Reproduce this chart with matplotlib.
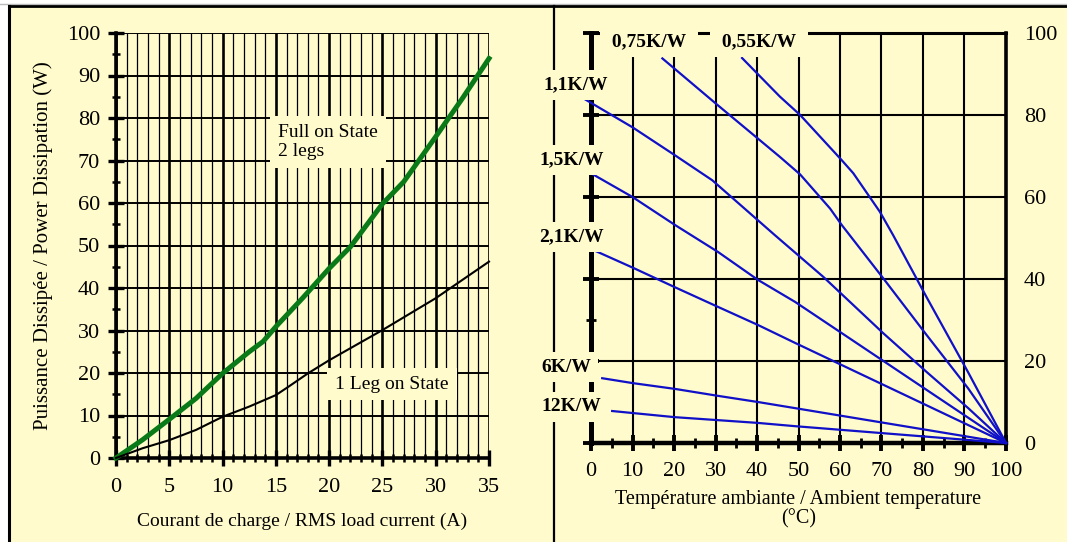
"""
Power dissipation vs RMS load current, and max allowed power vs ambient
temperature for several heatsink thermal resistances.
"""

import matplotlib
import numpy as np

matplotlib.use("Agg")
import matplotlib.pyplot as plt  # noqa: E402
from matplotlib.lines import Line2D  # noqa: E402
from matplotlib.patches import Rectangle  # noqa: E402

plt.rcParams["font.family"] = ["Liberation Serif", "DejaVu Serif"]

BG = "#FFFBCC"
GREEN = "#0a7a18"
BLUE = "#1010c8"

# --- left panel: dissipated power vs load current
I_FULL = [0, 2.5, 5, 7.5, 10, 12.5, 13.8, 15, 17.5, 20, 22, 25, 27, 30, 32.5, 35]
P_FULL = [0, 4.3, 9.1, 14, 19.9, 25, 27.4, 30.9, 37.6, 44.6, 49.7, 59.8, 65,
          75.6, 84.6, 94]
I_LEG = [0, 2.5, 5, 7.5, 10, 12.5, 15, 16.2, 18, 20, 25, 30, 35]
P_LEG = [0, 2.3, 4.2, 6.6, 9.7, 12.1, 14.8, 16.8, 19.9, 23, 30.1, 37.6, 46.2]

# --- right panel: allowed power vs ambient temperature, per Rth(heatsink)
RTH = {
    "0,55K/W": ([36.4, 45.5, 50.4, 60.4, 63.2, 69.6, 72.8, 80.9, 90.9, 100],
                [93.9, 84.5, 80.0, 69.0, 65.8, 56.4, 50.7, 35.5, 17.2, 0]),
    "0,75K/W": ([17.2, 30.3, 45.5, 50.4, 57.6, 60.4, 70.4, 80.9, 90.9, 100],
                [93.8, 82.6, 69.8, 65.5, 57.2, 53.2, 40.2, 26.3, 13.3, 0]),
    "1,1K/W": ([-1.9, 10, 20.2, 29.2, 44.3, 56, 70.4, 80.9, 90.9, 100],
               [84.1, 77.0, 70.2, 64.1, 50.7, 40.5, 26.8, 17.3, 8.5, 0]),
    "1,5K/W": ([-0.2, 10, 20.2, 30.6, 40.2, 49.2, 100],
               [65.9, 60.0, 53.2, 46.6, 39.8, 34.4, 0]),
    "2,1K/W": ([0.5, 10.2, 20.2, 30.6, 40.2, 49.2, 100],
               [47.1, 42.7, 38.0, 33.2, 28.8, 24.4, 0]),
    "6K/W": ([2.7, 10.1, 20.2, 30.6, 40.2, 49.2, 100],
             [15.8, 14.6, 13.2, 11.5, 10.0, 8.5, 0]),
    "12K/W": ([5.1, 20.2, 40.2, 49.2, 100],
              [7.8, 6.3, 4.9, 4.1, 0]),
}
# label anchor (temperature, power) for each curve name
RTH_LABEL_POS = {
    "0,75K/W": (14.0, 97.8), "0,55K/W": (40.5, 97.8),
    "1,1K/W": (-3.6, 87.3), "1,5K/W": (-4.6, 69.0), "2,1K/W": (-4.6, 50.2),
    "6K/W": (-6.0, 18.5), "12K/W": (-4.8, 8.8),
}

W, H = 1067, 542


def fx(px):
    return px / W


def fy(py):
    return 1 - py / H


def main():
    fig = plt.figure(figsize=(W / 100, H / 100), dpi=100)
    fig.patch.set_facecolor("white")

    # page frame
    fig.patches.append(Rectangle((fx(9), 0), 1 - fx(9), fy(6),
                                 transform=fig.transFigure, facecolor=BG,
                                 edgecolor="none", zorder=-5))
    fig.add_artist(Line2D([0, 1], [fy(3.5), fy(3.5)], color="#bbbbbb", lw=1, zorder=-4))
    fig.add_artist(Line2D([fx(9), 1], [fy(6), fy(6)], color="k", lw=2, zorder=-4))
    fig.add_artist(Line2D([fx(9), fx(9)], [0, fy(6)], color="k", lw=2.2, zorder=-4))
    fig.add_artist(Line2D([fx(554), fx(554)], [0, fy(6)], color="k", lw=1.6, zorder=-4))

    # ---------------- left panel
    ax1 = fig.add_axes([fx(116), fy(458), (489 - 116) / W, (458 - 33) / H])
    ax1.set_facecolor("none")
    ax1.set_xlim(0, 35)
    ax1.set_ylim(0, 100)
    for s in ("top", "right"):
        ax1.spines[s].set_visible(False)
    for s in ("left", "bottom"):
        ax1.spines[s].set_linewidth(2.6)
    ax1.set_xticks(np.arange(0, 36, 5))
    ax1.set_xticks(np.arange(0, 36, 1), minor=True)
    ax1.set_yticks(np.arange(0, 101, 10))
    ax1.set_yticks(np.arange(5, 100, 10), minor=True)
    ax1.xaxis.grid(True, which="major", color="k", lw=1.9)
    ax1.xaxis.grid(True, which="minor", color="k", lw=0.9)
    ax1.yaxis.grid(True, which="major", color="k", lw=1.4)
    ax1.set_axisbelow(True)
    ax1.tick_params(which="major", direction="inout", length=11, width=2.4,
                    labelsize=16, pad=6)
    ax1.tick_params(axis="x", which="major", pad=9)
    ax1.tick_params(which="minor", direction="inout", length=6, width=1.8)

    ax1.plot(I_FULL, P_FULL, color=GREEN, lw=3.6, zorder=4, clip_on=False)
    ax1.plot(I_LEG, P_LEG, color="k", lw=1.5, zorder=4, clip_on=False)
    ax1.text(15.2, 74.3, "Full on State\n2 legs", fontsize=14, ha="left",
             va="center", linespacing=1.15, zorder=5,
             bbox=dict(boxstyle="square,pad=0.4", fc=BG, ec="none"))
    ax1.text(25.9, 17.4, "1 Leg on State", fontsize=14, ha="center",
             va="center", zorder=5,
             bbox=dict(boxstyle="square,pad=0.4", fc=BG, ec="none"))
    ax1.set_xlabel("Courant de charge / RMS load current (A)", fontsize=14,
                   labelpad=11)
    ax1.set_ylabel("Puissance Dissipée / Power Dissipation (W)", fontsize=15,
                   labelpad=10)

    # ---------------- right panel
    ax2 = fig.add_axes([fx(591), fy(443), (1006 - 591) / W, (443 - 33) / H])
    ax2.set_facecolor("none")
    ax2.set_xlim(0, 100)
    ax2.set_ylim(0, 100)
    ax2.spines["left"].set_linewidth(3.6)
    ax2.spines["bottom"].set_linewidth(3.2)
    ax2.spines["right"].set_linewidth(2.6)
    ax2.spines["top"].set_linewidth(2.2)
    ax2.set_xticks(np.arange(0, 101, 10))
    ax2.set_xticks(np.arange(5, 100, 10), minor=True)
    ax2.set_yticks(np.arange(0, 101, 20))
    ax2.set_yticks(np.arange(10, 100, 20), minor=True)
    ax2.grid(True, which="major", color="k", lw=1.5)
    ax2.set_axisbelow(True)
    ax2.tick_params(which="major", direction="inout", length=12, width=2.8,
                    labelsize=16)
    ax2.tick_params(which="minor", direction="inout", length=7, width=2)
    ax2.tick_params(axis="y", which="both", left=True, right=False,
                    labelleft=False, labelright=True, pad=7)
    ax2.tick_params(axis="x", pad=8)

    for name, (t, p) in RTH.items():
        ax2.plot(t, p, color=BLUE, lw=1.6, zorder=3, clip_on=False)
    for name, (t, p) in RTH_LABEL_POS.items():
        txt = " " + name + " " if name.startswith("0,") else name
        ax2.text(t, p, txt, fontsize=14, fontweight="bold", ha="center",
                 va="center", zorder=6, clip_on=False,
                 bbox=dict(boxstyle="square,pad=0.35", fc=BG, ec="none"))
    ax2.set_xlabel("Température ambiante / Ambient temperature\n(°C)",
                   fontsize=14.5, labelpad=6, linespacing=1.0)

    fig.savefig("out.png", dpi=100)


if __name__ == "__main__":
    main()
